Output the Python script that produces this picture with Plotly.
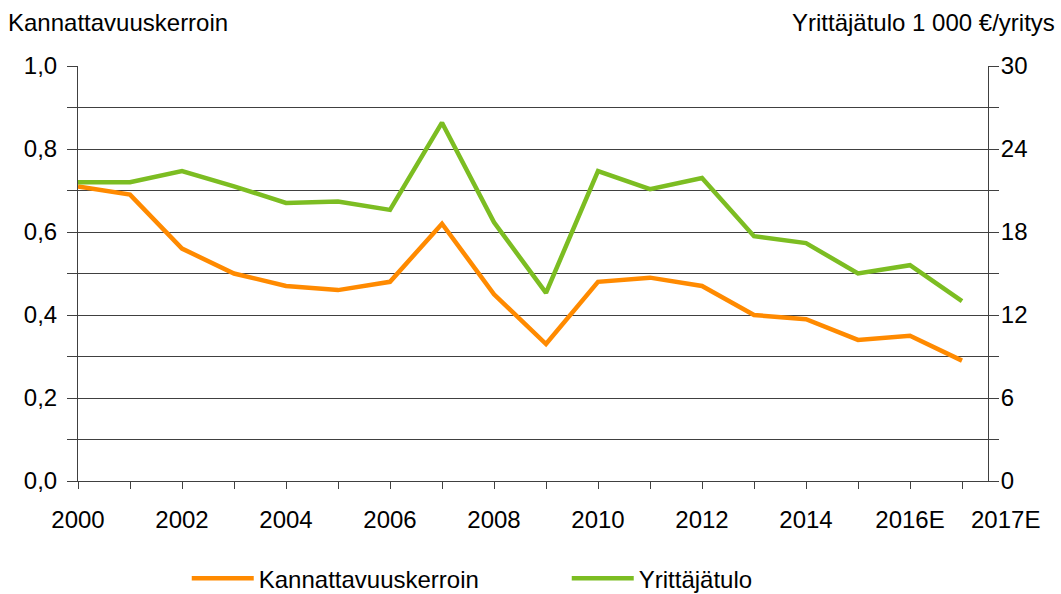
import plotly.graph_objects as go

categories = ["2000", "2001", "2002", "2003", "2004", "2005", "2006", "2007", "2008",
              "2009", "2010", "2011", "2012", "2013", "2014", "2015", "2016E", "2017E"]
kannattavuuskerroin = [0.71, 0.69, 0.56, 0.50, 0.47, 0.46, 0.48, 0.62, 0.45,
                       0.33, 0.48, 0.49, 0.47, 0.40, 0.39, 0.34, 0.35, 0.29]
yrittajatulo = [21.6, 21.6, 22.4, 21.3, 20.1, 20.2, 19.6, 25.9, 18.7,
                13.6, 22.4, 21.1, 21.9, 17.7, 17.2, 15.0, 15.6, 13.0]
x_tick_labels = ["2000", "2002", "2004", "2006", "2008", "2010", "2012", "2014", "2016E"]
last_label = "2017E"

x = [int(c[:4]) for c in categories]
x_tick_vals = [int(c[:4]) for c in x_tick_labels]

ORANGE = "#FF8A00"
GREEN = "#7CBD22"
AX = "#404040"
FONT = "Liberation Sans, Arial, sans-serif"

fig = go.Figure()
fig.add_trace(go.Scatter(x=x, y=kannattavuuskerroin, name="Kannattavuuskerroin",
                         mode="lines", line=dict(color=ORANGE, width=4.5), yaxis="y"))
fig.add_trace(go.Scatter(x=x, y=yrittajatulo, name="Yrittäjätulo",
                         mode="lines", line=dict(color=GREEN, width=4.5), yaxis="y2"))

fig.update_layout(
    width=1061, height=594,
    margin=dict(l=78, r=73, t=66, b=113, autoexpand=False),
    paper_bgcolor="white", plot_bgcolor="white",
    font=dict(family=FONT, size=24, color="black"),
    separators=", ",
    showlegend=True,
    legend=dict(orientation="h", x=0.1195, xanchor="left", y=-0.235, yanchor="middle",
                entrywidth=303, entrywidthmode="pixels", itemwidth=62,
                font=dict(size=24), bgcolor="rgba(0,0,0,0)"),
    xaxis=dict(range=[2000, 2017.5], tickvals=x_tick_vals, ticktext=x_tick_labels,
               ticks="outside", ticklen=7, tickcolor=AX, showgrid=False, automargin=False,
               ticklabelstandoff=10,
               showline=True, linecolor=AX, linewidth=1, zeroline=False,
               minor=dict(dtick=1, tick0=2000, ticks="outside", ticklen=7, tickcolor=AX, showgrid=False),
               tickfont=dict(size=24)),
    yaxis=dict(range=[0, 1], dtick=0.2, tick0=0, tickformat=".1f", automargin=False,
               ticks="outside", ticklen=10, tickcolor=AX, ticklabelstandoff=5,
               showgrid=True, gridcolor=AX, gridwidth=1,
               showline=True, linecolor=AX, linewidth=1, zeroline=False,
               minor=dict(dtick=0.1, ticks="outside", ticklen=10, tickcolor=AX,
                          showgrid=True, gridcolor=AX, gridwidth=1),
               tickfont=dict(size=24)),
    yaxis2=dict(range=[0, 30], dtick=6, tick0=0, overlaying="y", side="right", automargin=False,
                ticks="outside", ticklen=10, tickcolor=AX, ticklabelstandoff=-3,
                showgrid=False, showline=True, linecolor=AX, linewidth=1, zeroline=False,
                minor=dict(dtick=3, ticks="outside", ticklen=10, tickcolor=AX, showgrid=False),
                tickfont=dict(size=24)),
    annotations=[
        dict(text="Kannattavuuskerroin", xref="paper", yref="paper", x=-0.079, y=1.106,
             xanchor="left", yanchor="middle", showarrow=False, font=dict(size=24)),
        dict(text="Yrittäjätulo 1 000 €/yritys", xref="paper", yref="paper", x=1.0758, y=1.106,
             xanchor="right", yanchor="middle", showarrow=False, font=dict(size=24)),
        dict(text=last_label, xref="paper", yref="paper", x=1.0187, y=-0.0916,
             xanchor="center", yanchor="middle", showarrow=False, font=dict(size=24)),
    ],
)

fig.write_html("out.html", config={"displayModeBar": False},
               post_script="document.body.style.margin='0px';document.body.style.overflow='hidden';")
